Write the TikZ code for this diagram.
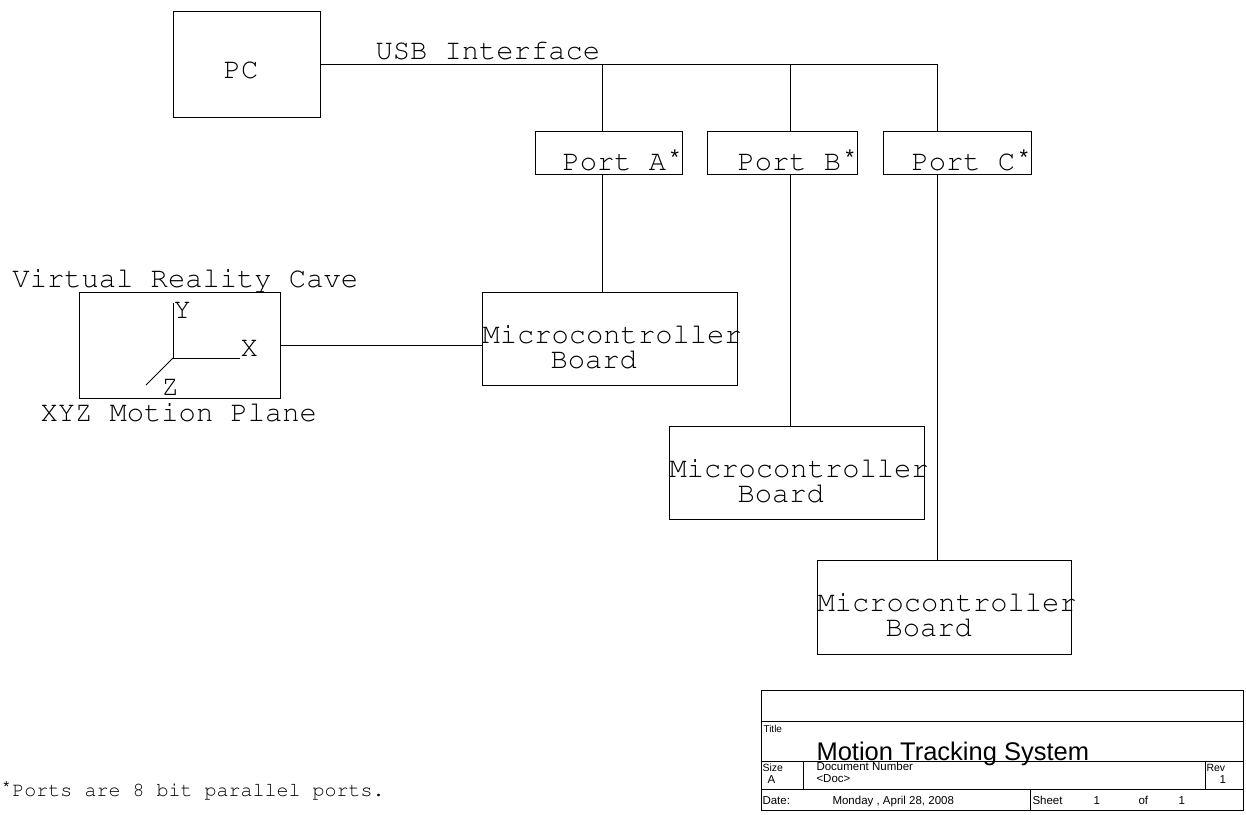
\documentclass[tikz,border=0pt]{standalone}
\usepackage[T1]{fontenc}
\usepackage{fontspec}
\usepackage{graphicx}
\newfontfamily\arialf{Liberation Sans}
\newfontfamily\lmonof{Liberation Mono}
\newcommand\courf{\fontencoding{T1}\fontfamily{pcr}\selectfont}
\newcommand\myast{\makebox[0.6em][c]{\raisebox{0.17em}{\scalebox{0.75}{\lmonof *}}}}
\begin{document}
\begin{tikzpicture}[x=1pt,y=-1pt,line width=1pt,
  box/.style={draw,rectangle,anchor=north west,inner sep=0pt},
  mono/.style={font=\courf\fontsize{28.8}{30}\selectfont,inner sep=0pt},
  small/.style={font=\arialf\fontsize{11.5}{12}\selectfont,inner sep=0pt,anchor=base west}]
\useasboundingbox (0,0) rectangle (1246,814);
% boxes
\node[box,minimum width=147pt,minimum height=106pt] (pc) at (173,11) {};
\node[mono] (pct) at (241,70) {PC};
\node[box,minimum width=147pt,minimum height=43pt] (portA) at (535,131) {};
\node[box,minimum width=150pt,minimum height=43pt] (portB) at (707,131) {};
\node[box,minimum width=148pt,minimum height=43pt] (portC) at (883,131) {};
\node[mono,anchor=base east] (pAt) at (684,170) {Port A\myast};
\node[mono,anchor=base east] (pBt) at (859,170) {Port B\myast};
\node[mono,anchor=base east] (pCt) at (1033,170) {Port C\myast};
\node[box,minimum width=255pt,minimum height=93pt] (mcA) at (482,292) {};
\node[box,minimum width=255pt,minimum height=93pt] (mcB) at (669,426) {};
\node[box,minimum width=254pt,minimum height=94pt] (mcC) at (817,560) {};
\node[mono,anchor=base west] (mcA1) at (482,343) {Microcontroller};
\node[mono,anchor=base west] (mcA2) at (550,368) {Board};
\node[mono,anchor=base west] (mcB1) at (669,477) {Microcontroller};
\node[mono,anchor=base west] (mcB2) at (737,502) {Board};
\node[mono,anchor=base west] (mcC1) at (817,611) {Microcontroller};
\node[mono,anchor=base west] (mcC2) at (885,636) {Board};
\node[box,minimum width=201pt,minimum height=106pt] (vr) at (79,292) {};
\node[mono,anchor=base west] (vrt) at (12,287) {Virtual Reality Cave};
\node[mono,anchor=base west] (xyz) at (40,421) {XYZ Motion Plane};
% axes
\coordinate (org) at (173,358);
\coordinate (ytip) at (173,303);
\coordinate (xtip) at (240,358);
\coordinate (ztip) at (146,385);
\draw (org) -- (ytip);
\draw (org) -- (xtip);
\draw (org) -- (ztip);
\node[mono,anchor=base west] (yl) at (173,318) {Y};
\node[mono,anchor=base west] (xl) at (240,356) {X};
\node[mono,anchor=base west] (zl) at (161,395) {Z};
% bus
\coordinate (busend) at (937,64);
\coordinate (tapA) at (602,64);
\coordinate (tapB) at (790,64);
\draw (pc.east |- busend) -- (busend);
\node[mono,anchor=base west] (usb) at (375,59) {USB Interface};
\draw (tapA) -- (tapA |- portA.north);
\draw (tapB) -- (tapB |- portB.north);
\draw (busend) -- (busend |- portC.north);
\draw (tapA |- portA.south) -- (tapA |- mcA.north);
\draw (tapB |- portB.south) -- (tapB |- mcB.north);
\draw (busend |- portC.south) -- (busend |- mcC.north);
\draw (vr.east) -- (vr.east -| mcA.west);
\node[font=\courf\fontsize{20}{22}\selectfont,inner sep=0pt,anchor=base west] (note) at (0,796) {\myast Ports are 8 bit parallel ports.};
% title block
\node[box,minimum width=482pt,minimum height=120pt] (tb) at (761,690) {};
\coordinate (r1) at (761,721);
\coordinate (r2) at (761,761);
\coordinate (r3) at (761,789);
\draw (r1) -- (r1 -| tb.east);
\draw (r2) -- (r2 -| tb.east);
\draw (r3) -- (r3 -| tb.east);
\draw (803,761) -- (803,789);
\draw (1205,761) -- (1205,789);
\draw (1030,789) -- (1030,810);
\node[small,font=\arialf\fontsize{10}{11}\selectfont] (ttl) at (763,732) {Title};
\node[font=\arialf\fontsize{25.5}{27}\selectfont,inner sep=0pt,anchor=base west] (tname) at (816,760) {Motion Tracking System};
\node[small,font=\arialf\fontsize{10.5}{11}\selectfont] (sz) at (762,771) {Size};
\node[small] (sza) at (767,783) {A};
\node[small] (dn) at (816,770) {Document Number};
\node[small] (doc) at (816,782) {<Doc>};
\node[small,font=\arialf\fontsize{10.5}{11}\selectfont] (rev) at (1206,771) {Rev};
\node[small] (rev1) at (1219,783) {1};
\node[small] (dt) at (762,804) {Date:};
\node[small] (dd) at (832,804) {Monday , April 28, 2008};
\node[small] (sh) at (1032,804) {Sheet};
\node[small] (s1) at (1093,804) {1};
\node[small] (of) at (1138,804) {of};
\node[small] (s2) at (1178,804) {1};
\end{tikzpicture}
\end{document}
